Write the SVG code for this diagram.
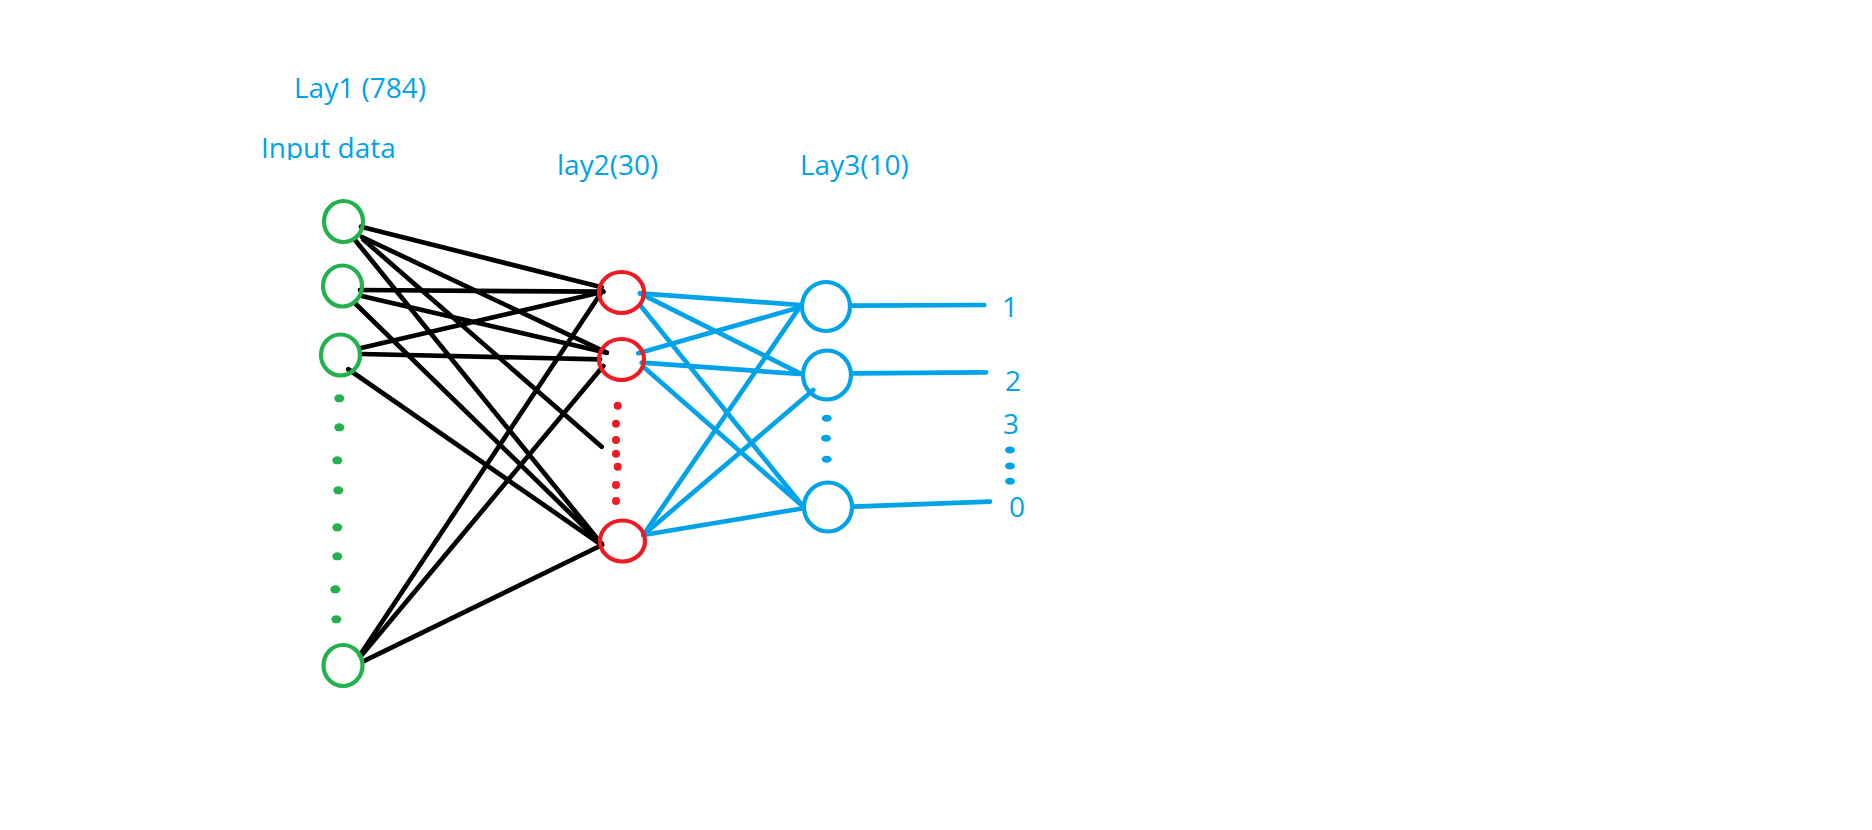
<svg xmlns="http://www.w3.org/2000/svg" width="1872" height="830" viewBox="0 0 1872 830">
<style>
.lbl{font-family:"Open Sans","Noto Sans","Liberation Sans",sans-serif;font-size:28px;fill:#00A2E8}
.num{text-anchor:middle}
.gn{fill:none;stroke:#22B14C;stroke-width:4.2}
.rn{fill:none;stroke:#ED1C24;stroke-width:4.2}
.bn{fill:none;stroke:#00A2E8;stroke-width:4.2}
.k{stroke:#000;stroke-width:4.7;stroke-linecap:round;fill:none}
.b{stroke:#00A2E8;stroke-width:4.7;stroke-linecap:round;fill:none}
.gd{fill:#22B14C}
.rd{fill:#ED1C24}
.bd{fill:#00A2E8}
</style>
<defs>
<clipPath id="clipInput"><rect x="0" y="0" width="1872" height="160"/></clipPath>
</defs>
<rect x="0" y="0" width="1872" height="830" fill="#fff"/>
<g id="labels">
<text class="lbl" x="294" y="98">Lay1 (784)</text>
<text class="lbl" x="261" y="158" clip-path="url(#clipInput)">Input data</text>
<text class="lbl" x="557" y="175">lay2(30)</text>
<text class="lbl" x="800" y="175">Lay3(10)</text>
<text class="lbl num" x="1010" y="317">1</text>
<text class="lbl num" x="1013" y="391">2</text>
<text class="lbl num" x="1011" y="434">3</text>
<text class="lbl num" x="1017" y="517">0</text>
</g>
<g id="connectors">
<line class="k" x1="361" y1="226.7" x2="601.7" y2="287.3"/>
<line class="k" x1="362" y1="237" x2="606.7" y2="352.7"/>
<line class="k" x1="363.3" y1="239.5" x2="601.7" y2="446.7"/>
<line class="k" x1="355" y1="240" x2="601.7" y2="544"/>
<line class="k" x1="360" y1="290" x2="603.3" y2="291.7"/>
<line class="k" x1="361.7" y1="296" x2="606.7" y2="352.7"/>
<line class="k" x1="355" y1="303.3" x2="601.7" y2="544"/>
<line class="k" x1="360" y1="348.3" x2="603.3" y2="291.7"/>
<line class="k" x1="361.7" y1="354" x2="600" y2="359.3"/>
<line class="k" x1="348.3" y1="369.3" x2="601.7" y2="545"/>
<line class="k" x1="360" y1="655" x2="601" y2="293"/>
<line class="k" x1="361" y1="656" x2="603.3" y2="366"/>
<line class="k" x1="362.7" y1="661.7" x2="602" y2="545"/>
<line class="b" x1="640" y1="293.3" x2="800" y2="305"/>
<line class="b" x1="640" y1="293.3" x2="800" y2="373.3"/>
<line class="b" x1="640" y1="305" x2="803.3" y2="506.7"/>
<line class="b" x1="638.3" y1="353.3" x2="800" y2="307.3"/>
<line class="b" x1="641.7" y1="362.7" x2="800" y2="374"/>
<line class="b" x1="645" y1="368.3" x2="803.3" y2="506.7"/>
<line class="b" x1="643.3" y1="535" x2="800" y2="306.7"/>
<line class="b" x1="643.3" y1="535" x2="813.3" y2="390"/>
<line class="b" x1="643.3" y1="535" x2="803.3" y2="508.3"/>
<line class="b" x1="851.7" y1="305.7" x2="984.3" y2="305"/>
<line class="b" x1="852.7" y1="373.3" x2="986" y2="372.3"/>
<line class="b" x1="853.3" y1="506.7" x2="990" y2="501.7"/>
</g>
<g id="input-layer">
<ellipse id="in1" class="gn" cx="343.5" cy="221.5" rx="19.5" ry="20.5"/>
<ellipse id="in2" class="gn" cx="342.5" cy="286" rx="19.5" ry="20.5"/>
<ellipse id="in3" class="gn" cx="340.5" cy="355" rx="19.5" ry="20.5"/>
<ellipse id="in784" class="gn" cx="343" cy="665.5" rx="19.5" ry="20.5"/>
<g id="in-dots">
<ellipse class="gd" cx="339.3" cy="398.3" rx="5" ry="4"/>
<ellipse class="gd" cx="339.3" cy="427.3" rx="5" ry="4"/>
<ellipse class="gd" cx="337.3" cy="460.3" rx="5" ry="4"/>
<ellipse class="gd" cx="338.3" cy="490.3" rx="5" ry="4"/>
<ellipse class="gd" cx="337.3" cy="527.3" rx="5" ry="4"/>
<ellipse class="gd" cx="337.3" cy="556.3" rx="5" ry="4"/>
<ellipse class="gd" cx="335.3" cy="589.3" rx="5" ry="4"/>
<ellipse class="gd" cx="336.3" cy="619.3" rx="5" ry="4"/>
</g>
</g>
<g id="hidden-layer">
<ellipse id="h1" class="rn" cx="621.5" cy="292.5" rx="22.5" ry="20.5"/>
<ellipse id="h2" class="rn" cx="621.5" cy="359.5" rx="22.5" ry="20.5"/>
<ellipse id="h30" class="rn" cx="622.5" cy="541" rx="22.5" ry="20.5"/>
<g id="hidden-dots">
<circle class="rd" cx="617.7" cy="405.7" r="4"/>
<circle class="rd" cx="616" cy="423.7" r="4"/>
<circle class="rd" cx="616" cy="440" r="4"/>
<circle class="rd" cx="616" cy="453.7" r="4"/>
<circle class="rd" cx="617.7" cy="466.7" r="4"/>
<circle class="rd" cx="616" cy="485" r="4"/>
<circle class="rd" cx="616" cy="501" r="4"/>
</g>
</g>
<g id="output-layer">
<ellipse id="o1" class="bn" cx="826" cy="306.5" rx="24" ry="24.5"/>
<ellipse id="o2" class="bn" cx="827" cy="375" rx="24" ry="24.5"/>
<ellipse id="o10" class="bn" cx="828" cy="507" rx="24" ry="24.5"/>
<g id="output-dots">
<ellipse class="bd" cx="826.7" cy="418.3" rx="5" ry="3.5"/>
<ellipse class="bd" cx="826" cy="438.3" rx="5" ry="3.5"/>
<ellipse class="bd" cx="826.7" cy="459.3" rx="5" ry="3.5"/>
<ellipse class="bd" cx="1010" cy="450" rx="5" ry="3.5"/>
<ellipse class="bd" cx="1010" cy="466" rx="5" ry="3.5"/>
<ellipse class="bd" cx="1010" cy="481.3" rx="5" ry="3.5"/>
</g>
</g>
</svg>
